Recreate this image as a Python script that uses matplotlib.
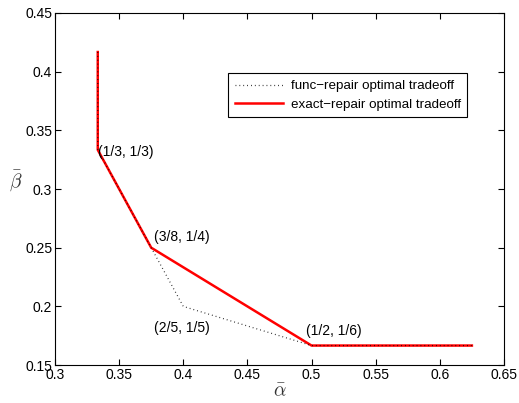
import matplotlib
matplotlib.use('Agg')
import matplotlib.pyplot as plt

plt.rcParams['font.family'] = ['Liberation Sans', 'DejaVu Sans']
plt.rcParams['mathtext.fontset'] = 'cm'

# functional-repair tradeoff corner points
funcAlpha = [1/3, 1/3, 3/8, 2/5, 1/2, 5/8]
funcBeta = [5/12, 1/3, 1/4, 1/5, 1/6, 1/6]

# exact-repair tradeoff corner points
exactAlpha = [1/3, 1/3, 3/8, 1/2, 5/8]
exactBeta = [5/12, 1/3, 1/4, 1/6, 1/6]

# labelled points: text, x, y
labels = ['(1/3, 1/3)', '(3/8, 1/4)', '(2/5, 1/5)', '(1/2, 1/6)']
labelX = [0.3335, 0.377, 0.377, 0.4956]
labelY = [0.3316, 0.259, 0.182, 0.179]

fig = plt.figure(figsize=(5.19, 4.03), dpi=100)
ax = fig.add_axes([0.106, 0.094, 0.865, 0.874])

ax.plot(exactAlpha, exactBeta, color='red', linewidth=1.8,
        label='exact\u2212repair optimal tradeoff', zorder=2)
ax.plot(funcAlpha, funcBeta, color='black', linewidth=0.9, dashes=(0.7, 2.4),
        alpha=0.85, label='func\u2212repair optimal tradeoff', zorder=3)

for txt, lx, ly in zip(labels, labelX, labelY):
    ax.text(lx, ly, txt, fontsize=10, ha='left', va='center')

ax.set_xlim(0.3, 0.65)
ax.set_ylim(0.15, 0.45)
ax.set_xticks([0.3, 0.35, 0.4, 0.45, 0.5, 0.55, 0.6, 0.65])
ax.set_xticklabels(['0.3', '0.35', '0.4', '0.45', '0.5', '0.55', '0.6', '0.65'])
ax.set_yticks([0.15, 0.2, 0.25, 0.3, 0.35, 0.4, 0.45])
ax.set_yticklabels(['0.15', '0.2', '0.25', '0.3', '0.35', '0.4', '0.45'])
ax.tick_params(direction='in', top=True, right=True, labelsize=10, length=4, pad=2)

ax.set_xlabel(r'$\bar{\alpha}$', fontsize=14, color='#333333', labelpad=1)
ax.set_ylabel(r'$\bar{\beta}$', fontsize=14, color='#333333', rotation=0,
              va='center', labelpad=8)
ax.yaxis.set_label_coords(-0.088, 0.525)

handles, names = ax.get_legend_handles_labels()
leg = ax.legend(handles[::-1], names[::-1], loc='upper left',
                bbox_to_anchor=(0.385, 0.828), fontsize=9.6, fancybox=False,
                edgecolor='black', framealpha=1, handlelength=3.6,
                borderpad=0.5, labelspacing=0.45, handletextpad=0.6,
                borderaxespad=0)
leg.get_frame().set_linewidth(0.8)

fig.savefig('out.png', dpi=100)
